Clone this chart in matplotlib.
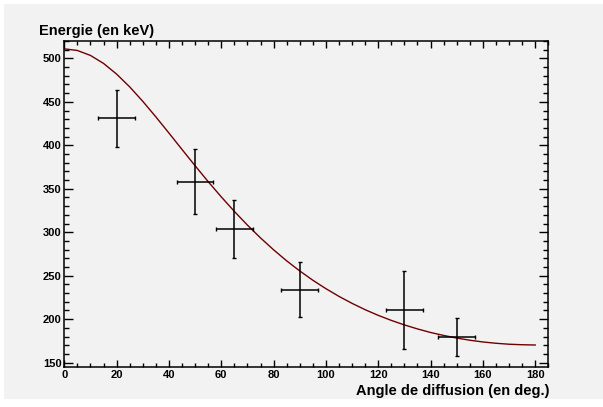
import matplotlib
matplotlib.use("Agg")
import matplotlib.pyplot as plt
from matplotlib.patches import Rectangle
from matplotlib.ticker import MultipleLocator

# Measured points (angle in deg, energy in keV)
angles = [20, 50, 65, 90, 130, 150]
angle_err = [7, 7, 7, 7, 7, 7]
energies = [431, 358, 303.5, 234, 211, 179.5]
energy_err = [32.5, 37.5, 33.5, 32, 45, 22]

# Theoretical curve, every 5 degrees
curve_angles = [0, 5, 10, 15, 20, 25, 30, 35, 40, 45, 50, 55, 60, 65, 70, 75, 80, 85, 90,
                95, 100, 105, 110, 115, 120, 125, 130, 135, 140, 145, 150, 155, 160, 165,
                170, 175, 180]
curve_energies = [511.0, 509.1, 503.4, 494.2, 481.9, 467.2, 450.6, 432.7, 414.1, 395.2,
                  376.5, 358.2, 340.7, 324.0, 308.2, 293.5, 279.8, 267.1, 255.5, 244.8,
                  235.1, 226.2, 218.2, 210.9, 204.4, 198.6, 193.4, 188.8, 184.7, 181.3,
                  178.3, 175.8, 173.8, 172.3, 171.2, 170.6, 170.3]

xlabel = "Angle de diffusion (en deg.)"
ylabel = "Energie (en keV)"

bg = "#f2f2f2"
plt.rcParams['font.family'] = ['Liberation Sans', 'DejaVu Sans']

fig = plt.figure(figsize=(6.03, 4.07), dpi=100, facecolor="white")
fig.patches.append(Rectangle((4 / 603, 8 / 407), 599 / 603, 395 / 407,
                             transform=fig.transFigure, facecolor=bg,
                             edgecolor="none", zorder=-10))
ax = fig.add_axes([64.3 / 603, 40 / 407, 484 / 603, 326 / 407])
ax.set_facecolor(bg)

ax.plot(curve_angles, curve_energies, color="#6e0000", lw=1.0, zorder=2)
ax.errorbar(angles, energies, xerr=angle_err, yerr=energy_err, fmt="none",
            ecolor="black", elinewidth=1.1, capsize=1.1, capthick=1.0, zorder=3)

ax.set_xlim(0, 185)
ax.set_ylim(145, 520)
ax.xaxis.set_major_locator(MultipleLocator(20))
ax.xaxis.set_minor_locator(MultipleLocator(5))
ax.yaxis.set_major_locator(MultipleLocator(50))
ax.yaxis.set_minor_locator(MultipleLocator(10))

ax.tick_params(axis="x", which="major", direction="in", length=4.7, width=1.0,
               top=True, bottom=True, labelsize=8, pad=2)
ax.tick_params(axis="x", which="minor", direction="in", length=2.6, width=1.0,
               top=True, bottom=True)
ax.tick_params(axis="y", which="major", direction="in", length=6.8, width=1.0,
               left=True, right=True, labelsize=8, pad=2)
ax.tick_params(axis="y", which="minor", direction="in", length=3.4, width=1.0,
               left=True, right=True)
for lab in ax.get_xticklabels() + ax.get_yticklabels():
    lab.set_fontweight("bold")
for s in ax.spines.values():
    s.set_linewidth(1.1)

fig.text(550 / 603, 1 - 391 / 407, xlabel, ha="right", va="center",
         fontsize=10.5, fontweight="bold")
fig.text(39 / 603, 1 - 31 / 407, ylabel, ha="left", va="center",
         fontsize=10.5, fontweight="bold")

fig.savefig("out.png", dpi=100, facecolor="white")
